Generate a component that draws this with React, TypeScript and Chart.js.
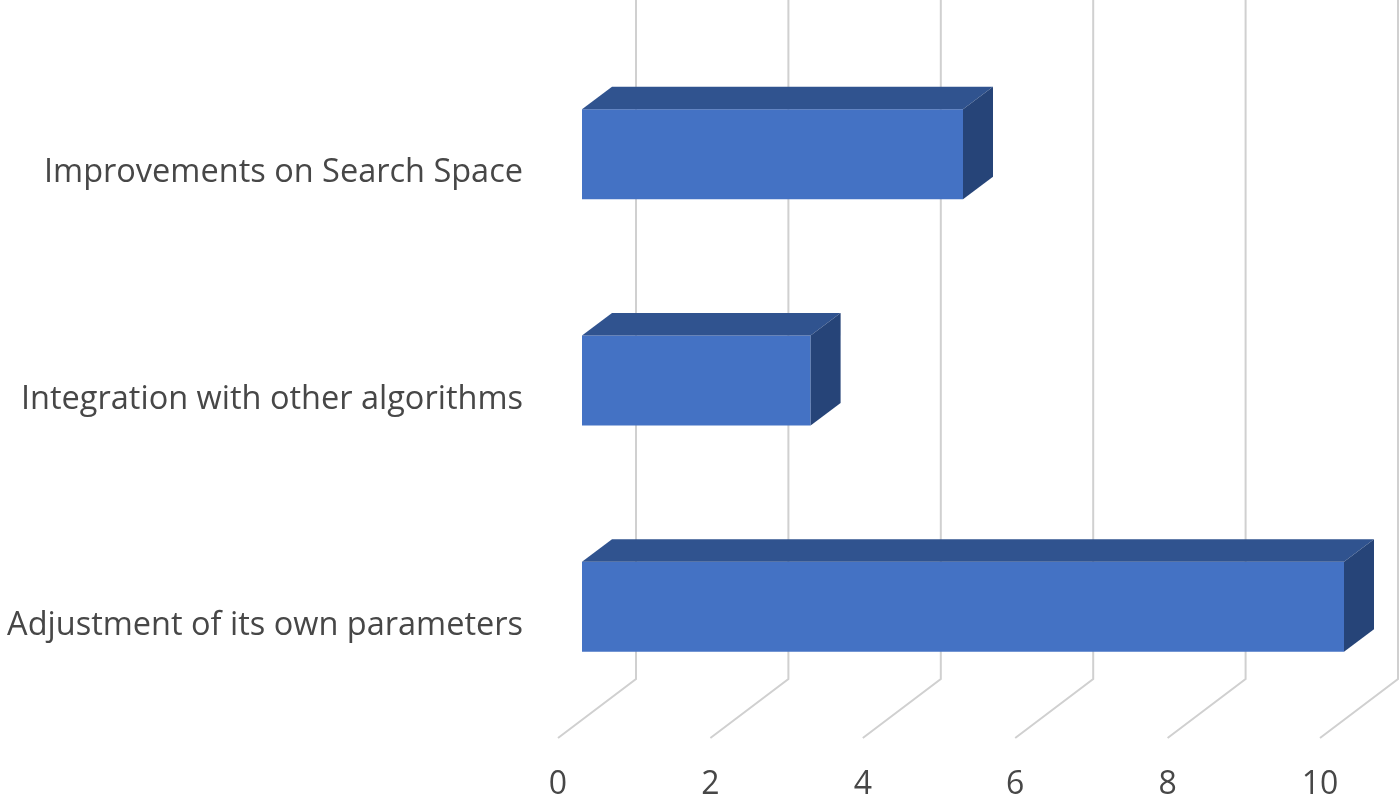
import React, { useEffect, useRef } from "react";
import { Chart, registerables } from "chart.js";

Chart.register(...registerables);

const categories = [
  "Improvements on Search Space",
  "Integration with other algorithms",
  "Adjustment of its own parameters",
];
const values = [5, 3, 10];
const xMin = 0;
const xMax = 10;
const xStep = 2;

const FRONT = "#4472C4";
const TOP = "#30538F";
const SIDE = "#264478";
const GRID = "#D0D0D0";
const TEXT = "#474747";
const FONT = "'Open Sans'";

// 3D depth geometry (pixels)
const BAR_DX = 30;
const BAR_DY = -22.5;
const BACK_DX = 54;
const BACK_DY = -41;
const FLOOR_DX = -24;
const FLOOR_DY = 18;

const threeD = {
  id: "threeD",
  beforeDatasetsDraw(chart: any) {
    const { ctx, chartArea } = chart;
    const xs = chart.scales.x;
    ctx.save();
    ctx.strokeStyle = GRID;
    ctx.lineWidth = 2;
    xs.ticks.forEach((t: any) => {
      const px = xs.getPixelForValue(t.value);
      ctx.beginPath();
      ctx.moveTo(px + BACK_DX, chartArea.top + BACK_DY);
      ctx.lineTo(px + BACK_DX, chartArea.bottom + BACK_DY);
      ctx.lineTo(px + FLOOR_DX, chartArea.bottom + FLOOR_DY);
      ctx.stroke();
    });
    ctx.restore();
  },
  afterDatasetsDraw(chart: any) {
    const { ctx } = chart;
    const meta = chart.getDatasetMeta(0);
    ctx.save();
    meta.data.forEach((el: any) => {
      const p = el.getProps(["x", "y", "base", "height"], true);
      const top = p.y - p.height / 2;
      const bot = p.y + p.height / 2;
      ctx.fillStyle = TOP;
      ctx.beginPath();
      ctx.moveTo(p.base, top);
      ctx.lineTo(p.x, top);
      ctx.lineTo(p.x + BAR_DX, top + BAR_DY);
      ctx.lineTo(p.base + BAR_DX, top + BAR_DY);
      ctx.closePath();
      ctx.fill();
      ctx.fillStyle = SIDE;
      ctx.beginPath();
      ctx.moveTo(p.x, top);
      ctx.lineTo(p.x + BAR_DX, top + BAR_DY);
      ctx.lineTo(p.x + BAR_DX, bot + BAR_DY);
      ctx.lineTo(p.x, bot);
      ctx.closePath();
      ctx.fill();
    });
    ctx.restore();
  },
};

export default function App() {
  const ref = useRef<HTMLCanvasElement | null>(null);
  useEffect(() => {
    if (!ref.current) return;
    const chart = new Chart(ref.current, {
      type: "bar",
      data: {
        labels: categories,
        datasets: [
          {
            data: values,
            backgroundColor: FRONT,
            borderWidth: 0,
            barPercentage: 0.398,
            categoryPercentage: 1,
          },
        ],
      },
      options: {
        indexAxis: "y",
        animation: false,
        responsive: false,
        maintainAspectRatio: false,
        layout: { padding: { top: 41, right: 56, left: 0, bottom: 0 } },
        plugins: { legend: { display: false }, tooltip: { enabled: false } },
        scales: {
          x: {
            min: xMin,
            max: xMax,
            grid: { display: false },
            border: { display: false },
            ticks: {
              stepSize: xStep,
              color: TEXT,
              font: { family: FONT, size: 32 },
              labelOffset: FLOOR_DX,
              padding: 38,
              maxRotation: 0,
            },
            afterFit(scale: any) {
              scale.height = 76;
              scale.paddingLeft = 0;
              scale.paddingRight = 0;
            },
          },
          y: {
            grid: { display: false },
            border: { display: false },
            ticks: {
              color: TEXT,
              font: { family: FONT, size: 32.5 },
              labelOffset: 19,
              padding: 51,
            },
            afterFit(scale: any) {
              scale.width = 582;
              scale.paddingTop = 0;
              scale.paddingBottom = 0;
            },
          },
        },
      },
      plugins: [threeD],
    });
    return () => chart.destroy();
  }, []);
  return (
    <div style={{ position: "fixed", left: 0, top: 0, width: 1400, height: 796, background: "#fff" }}>
      <canvas ref={ref} width={1400} height={796} />
    </div>
  );
}
